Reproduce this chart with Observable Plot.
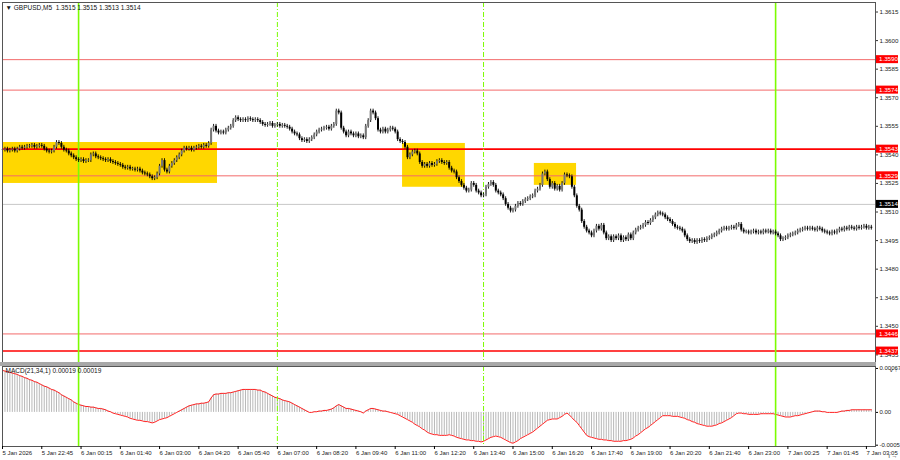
<!DOCTYPE html>
<html><head><meta charset="utf-8">
<script src="https://cdn.jsdelivr.net/npm/d3@7"></script>
<script src="https://cdn.jsdelivr.net/npm/@observablehq/plot@0.6"></script>
<style>
body{margin:0;background:#fff;}
#wrap{position:relative;width:900px;height:460px;overflow:hidden;background:#fff;font-family:"Liberation Sans",Arial,sans-serif;}
#main{position:absolute;left:0;top:0;}
#macd{position:absolute;left:0;top:364px;}
#sep{position:absolute;left:0;top:362px;width:876px;height:4px;background:#a8a8a8;}
svg{overflow:visible;}
</style></head><body>
<div id="wrap"><div id="main"></div><div id="sep"></div><div id="macd"></div></div>
<script>
// ---------- DATA ----------
const BASE = 1.35; // prices below are in pips above this base
const closePips = [
42.5,43,42,42.5,43,42, 43,44,43.5,44,44.5, 44.5,45,44,44.5,45,44.5, 43,42,41.5,42, 44,46.5,46, 44,42.5,42,
40.5,39.5,38.5,37.5,37, 37.5,36.5,37,37, 40,40.5, 39,38.5,38, 37.5,37,37.5,36.5, 36,35.5,35,34.5,
33.5,33,33.5,32.5,32.5, 32,32.5,31.5, 30.5,30,29.5, 28.5,27.5,28, 30, 34,37, 32, 31,34,35.5, 37,38.5,40,
42,43.5,43, 43.5,42.5,43.5, 44,44.5,44,45,44.5, 46, 53, 55, 52.5,51.5,52,51.5, 53,54,55, 58,59.5,
58.5,58,58.5,58,59,58.5,58,58.5,58, 57,56,55.5,56,56.5, 55,55.5,56,55,55.5,55,54.5, 53.5,52,51,50.5,
48.5,47.5,48,47,48,49, 50.5,52,53,53.5,54,54.5, 53.5, 55,56,63, 62,54, 52,50,52,51, 50,51,49.5,50,49,
55,58, 63,62,59, 53,52,53.5,52,53, 54,53.5,52, 48,47,46.5,44, 38.5,40, 41.5,42,40.5, 36,34,35,34,
35.5,34.5,35,36.5, 37,36,35.5,36, 33,31.5,31, 28,26,24,22.5, 21,21.5, 25,24, 21,20,18.5,19, 23,24.5,
25.5,24, 21,20,19,17, 14,12,10.5,11, 13,14.5,14,15.5, 16.5,17,18,18.5, 21,22,24, 30,31,27, 23,25,22,
23.5,21.5,25, 29.5,29,28.5, 23,18.5, 13,11, 5,2,0, -1,-2.5,0, 2.5,1,3, -1,-4,-3,-5,
-3,-4,-2.5,-5,-3.5,-4.5,-2,-4, -1,0.5,1.5,2, 3,4.5,4,5.5, 7,8.5,9.5,9,8.5, 7,6,5, 3.5,2,1.5,1,0,
-2.5,-4.5,-5.5, -5,-6,-5,-5.5,-4.5,-5,-4, -3.5,-2.5,-2,-1, 0,1,1.5,1,1.5,2,1.5, 3,3.5, 0.5,-0.5,
-0.5,-1,-0.5,0,-1,-0.5,-1,0,-0.5,0,-1,-0.5, -1.5,-2.5,-4.5,-4,-3.5, -2.5,-2,-1.5,-1,
0,0.5,1,1.5,1,1.5,1,0.5,1.5,1, 0,-0.5,-1,-1.5,-0.5,-1, 0,1,0.5,1.5,1,2,1.5,1,2,1.5,2, 2.5,1.5,2,1.5
];
// MACD(21,34,1) per bar, in units of 0.00001
const macdE5 = [
64,63,62,61,60,59,58,56, 55,53,52,50,49,47,46,44, 42,40,39,37,35,34,32, 30,27,25,23,21,19,16,14,
12,11,10,9,9,8,8,7,6, 6,5,4,2,1,-1,-2,-3, -4,-5,-6,-7,-9,-10,-11,-12,-12, -13,-14,-14,-15,-16,-15,-13,
-11,-10,-9,-8,-6,-4,-2,0, 2,4,6,8,10,11,12,13, 13,14,14,15,16,22, 27,28,28,29,29,29,30,30,
31,32,33,34,35,35, 35,35,35,35,34,34, 32,31,29,27,25,23, 22,21,19,18,17,16,14, 12,10,8,6,4,2,0,
0,1,1,2,2,3,3,4, 5,7,10,12, 10,8,6,6, 5,4,3,2,1,-1, 2,4,6,6, 5,4,3,2,2,1,0, -1,-2,-3,-5,-7,
-9,-11,-13,-15,-18,-20, -22,-25,-27,-30,-32, -33,-34,-34,-35,-35,-35,-35, -34,-35,-36,-38,-39,-40,-41,
-42,-42,-43,-43,-44,-44,-45, -44,-42,-40,-38,-37, -36,-37,-38,-40,-42,-44,-46,-47,
-45,-43,-40,-38,-36,-34,-32,-30, -27,-24,-21,-18,-15,-12, -11,-10,-10,-10,-8,-6,-3,-1,
-4,-8,-12,-15, -20,-25,-30,-35, -37,-38,-39,-40,-41,-41, -42,-42,-43,-43,-44,-44,-44, -44,-43,-43,-42,-41,
-39,-36,-34,-31,-28,-25,-23, -20,-17,-14,-11,-8,-5, -5,-5,-5,-6,-6,-6,-7, -8,-9,-11,-12,-14,-15,-17,
-18,-19,-20,-21,-21,-21, -20,-19,-17,-16,-14, -12,-10,-8,-5,-2,-1, -1,-2,-2,-3,-3,-3,
-3,-3,-2,-2,-2,-2,-2,-2, -3,-4,-5,-6,-7,-7, -7,-6,-5,-5,-4, -3,-2,-1,0,1,2,2,
2,1,1,0,0,0,0,0, 1,2,2,3,3,4,4, 4,4,4,4,4,4,4
];
const timeLabels = ["5 Jan 2026","5 Jan 22:45","6 Jan 00:15","6 Jan 01:40","6 Jan 03:00","6 Jan 04:20",
 "6 Jan 05:40","6 Jan 07:00","6 Jan 08:20","6 Jan 09:40","6 Jan 11:00","6 Jan 12:20","6 Jan 13:40",
 "6 Jan 15:00","6 Jan 16:20","6 Jan 17:40","6 Jan 19:00","6 Jan 20:20","6 Jan 21:40","6 Jan 23:00",
 "7 Jan 00:25","7 Jan 01:45","7 Jan 03:05"];
const barsPerLabel = 16;
const priceTicks = [1.3435,1.3450,1.3465,1.3480,1.3495,1.3510,1.3525,1.3540,1.3555,1.3570,1.3585,1.3600,1.3615];
const levelPrices = [1.3590,1.3574,1.3543,1.3529,1.3446,1.3437];
const levelStrong = [false,false,true,false,false,true];
const bidPrice = 1.3514;
// yellow zones: bar index start/end, price low/high
const zoneStart = [0,163,216.7];
const zoneEnd = [87.6,188.6,233.9];
const zoneLow = [1.3525,1.3523,1.3524];
const zoneHigh = [1.35465,1.3546,1.35355];
const daySeparators = [31,315];
const sessionLines = [112,196];
const titleText = "\u25BC GBPUSD,M5  1.3515 1.3515 1.3513 1.3514";
const macdTitle = "MACD(21,34,1) 0.00019 0.00019";
const macdTicks = [0.00067,0,-0.0005];
const macdTickLabels = ["0.00067","0.00","-0.0005"];

// ---------- BUILD ----------
const FONT = '"Liberation Sans", Arial, sans-serif';
const WICK = 1.0;
const bars = closePips.map((c,i)=>{
  const o = i ? closePips[i-1] : c;
  const top = Math.max(o,c), bot = Math.min(o,c);
  const mid = (top+bot)/2;
  const bt = top-bot < 0.4 ? mid+0.2 : top;
  const bb = top-bot < 0.4 ? mid-0.2 : bot;
  return {i, up: c>=o,
    hi: BASE+(top+WICK)/1e4, lo: BASE+(bot-WICK)/1e4,
    bt: BASE+bt/1e4, bb: BASE+bb/1e4};
});
const zones = zoneStart.map((s,k)=>({i1:s,i2:zoneEnd[k],lo:zoneLow[k],hi:zoneHigh[k]}));
const levels = levelPrices.map((p,k)=>({price:p,strong:levelStrong[k]}));
const macdRows = macdE5.map((v,i)=>({i, v: v/1e5}));
const xDomain = [0, 355.7];
const tickIdx = timeLabels.map((_,k)=>k*barsPerLabel);

const main = Plot.plot({
  width: 900, height: 364, marginLeft: 2, marginRight: 25, marginTop: 2, marginBottom: 2,
  x: {domain: xDomain, axis: null},
  y: {domain: [1.3431, 1.3620], axis: null},
  style: {fontFamily: FONT, fontSize: "6.2px", background: "transparent", overflow: "visible"},
  marks: [
    Plot.rect(zones, {x1:"i1", x2:"i2", y1:"lo", y2:"hi", fill:"#FFD700"}),
    Plot.ruleY([bidPrice], {stroke:"#c8c8c8", strokeWidth:1}),
    Plot.ruleY(levels.filter(d=>!d.strong), {y:"price", stroke:"#f36b6b", strokeWidth:1}),
    Plot.ruleY(levels.filter(d=>d.strong), {y:"price", stroke:"#ff0000", strokeWidth:1.6}),
    Plot.ruleX(daySeparators, {stroke:"#7CFC00", strokeWidth:1.6}),
    Plot.ruleX(sessionLines, {stroke:"#7CFC00", strokeWidth:1, strokeDasharray:"5,2,1,2"}),
    Plot.ruleX(bars, {x:"i", y1:"lo", y2:"hi", stroke:"#000", strokeWidth:0.9}),
    Plot.ruleX(bars.filter(d=>d.up), {x:"i", y1:"bb", y2:"bt", stroke:"#777", strokeWidth:2}),
    Plot.ruleX(bars.filter(d=>!d.up), {x:"i", y1:"bb", y2:"bt", stroke:"#000", strokeWidth:2}),
    Plot.frame({stroke:"#555"}),
    Plot.axisY({anchor:"right", ticks: priceTicks, tickFormat: d=>d.toFixed(4), tickSize:2, tickPadding:2, fontSize:6.2, stroke:"#333", fill:"#222"}),
    Plot.text([titleText], {frameAnchor:"top-left", dx:3, dy:3, lineAnchor:"top", fontSize:6.5, fill:"#111"})
  ]
});
document.getElementById("main").append(main);

// price labels on the right axis (boxes), positioned with Plot's y scale
const ys = main.scale("y");
const lab = d3.select(main).append("g").attr("font-family", FONT).attr("font-size", 6.2).attr("text-anchor","start");
const boxes = levels.map(d=>({price:d.price, bg:"#ff0000"})).concat([{price:bidPrice, bg:"#000"}]);
boxes.forEach(b=>{
  const y = ys.apply(b.price);
  lab.append("rect").attr("x",876).attr("y",y-4).attr("width",22).attr("height",8).attr("fill",b.bg);
  lab.append("text").attr("x",879).attr("y",y+2.2).attr("text-anchor","start").attr("fill","#fff").text(b.price.toFixed(4));
});

const macd = Plot.plot({
  width: 900, height: 96, marginLeft: 2, marginRight: 25, marginTop: 2, marginBottom: 14,
  x: {domain: xDomain, axis: null},
  y: {domain: [-0.00052, 0.0007], axis: null},
  style: {fontFamily: FONT, fontSize: "6.2px", background: "transparent", overflow: "visible"},
  marks: [
    Plot.ruleX(macdRows, {x:"i", y1:0, y2:"v", stroke:"#b8b8b8", strokeWidth:1}),
    Plot.line(macdRows, {x:"i", y:"v", stroke:"#ff2020", strokeWidth:1}),
    Plot.ruleX(daySeparators, {stroke:"#7CFC00", strokeWidth:1.6}),
    Plot.ruleX(sessionLines, {stroke:"#7CFC00", strokeWidth:1, strokeDasharray:"5,2,1,2"}),
    Plot.frame({stroke:"#555"}),
    Plot.axisY({anchor:"right", ticks: macdTicks, tickFormat: d=>macdTickLabels[macdTicks.indexOf(d)], tickSize:2, tickPadding:2, fontSize:6, fill:"#222"}),
    Plot.axisX({anchor:"bottom", ticks: tickIdx, tickFormat: d=>timeLabels[Math.round(d/barsPerLabel)], tickSize:3, tickPadding:1, textAnchor:"start", fontSize:6, fill:"#222"}),
    Plot.text([macdTitle], {frameAnchor:"top-left", dx:3, dy:2, lineAnchor:"top", fontSize:6.5, fill:"#111"})
  ]
});
document.getElementById("macd").append(macd);
</script>
</body></html>
